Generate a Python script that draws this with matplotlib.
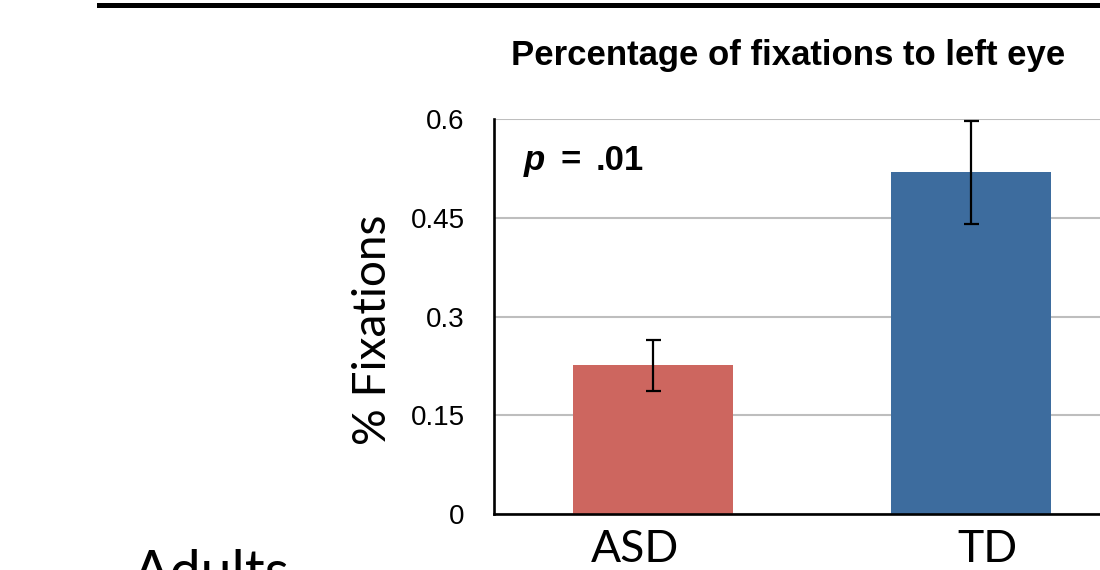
import matplotlib.pyplot as plt
import matplotlib.transforms as mtransforms
from matplotlib.lines import Line2D

groups = ['ASD', 'TD']
means = [0.227, 0.520]
err_low = [0.187, 0.441]
err_high = [0.264, 0.598]
bar_colors = ['#CD665F', '#3D6C9E']
yticks = [0, 0.15, 0.3, 0.45, 0.6]
ytick_labels = ['0', '0.15', '0.3', '0.45', '0.6']

W, H = 1100, 570
fig = plt.figure(figsize=(W / 100, H / 100), dpi=100)

# axes run past the right edge of the figure, like the cropped slide
ax = fig.add_axes([494 / W, 1 - 514 / H, 636 / W, (514 - 119.3) / H])


def ax_xy(px, py):
    # pixel position in the picture -> axes fraction
    return (px - 494) / 636, (514 - py) / 394.7


x = list(range(len(groups)))
yerr = [[m - lo for m, lo in zip(means, err_low)],
        [hi - m for m, hi in zip(means, err_high)]]
ax.bar(x, means, width=0.503, color=bar_colors, zorder=2)
ax.errorbar(x, means, yerr=yerr, fmt='none', ecolor='black',
            elinewidth=1.6, capsize=5.4, capthick=1.6, zorder=3)

ax.set_xlim(-0.5, 1.5)
ax.set_ylim(0, 0.6)
ax.set_yticks(yticks)
ax.set_yticklabels(ytick_labels, fontfamily='Liberation Sans', fontsize=20)
ax.tick_params(axis='y', length=0, pad=21)
ax.yaxis.grid(True, color='#BEBEBE', linewidth=1.5, zorder=0)
ax.set_axisbelow(True)

ax.set_xticks(x)
ax.set_xticklabels(groups, fontfamily='Lato', fontsize=32)
ax.tick_params(axis='x', length=0, pad=11)
# the category labels sit a little off the bar centres in the original
shifts = [-18, 16]
for lab, dx in zip(ax.get_xticklabels(), shifts):
    lab.set_transform(lab.get_transform() +
                      mtransforms.ScaledTranslation(dx / 100, 0, fig.dpi_scale_trans))

for side in ['top', 'right']:
    ax.spines[side].set_visible(False)
for side in ['left', 'bottom']:
    ax.spines[side].set_linewidth(1.9)
    ax.spines[side].set_color('black')

ax.set_ylabel('% Fixations', fontfamily='Lato', fontsize=33, va='center')
ax.yaxis.set_label_coords(*ax_xy(373, 330))

# p-value annotation
pkw = dict(transform=ax.transAxes, fontfamily='Liberation Sans', fontsize=25,
           fontweight='bold', va='baseline')
ax.text(*ax_xy(524, 170), 'p', fontstyle='italic', **pkw)
ax.text(*ax_xy(560, 170), '=', **pkw)
ax.text(*ax_xy(596, 170), '.01', **pkw)

fig.text(788.5 / W, 1 - 65.5 / H, 'Percentage of fixations to left eye',
         ha='center', va='baseline', fontfamily='Liberation Sans',
         fontsize=25, fontweight='bold')

fig.text(133 / W, 1 - 590 / H, 'Adults', ha='left', va='baseline',
         fontfamily='Lato', fontsize=40)

fig.add_artist(Line2D([99 / W, 1], [1 - 4.5 / H, 1 - 4.5 / H],
                      transform=fig.transFigure, color='black', linewidth=3.6))

fig.savefig('out.png', dpi=100)
